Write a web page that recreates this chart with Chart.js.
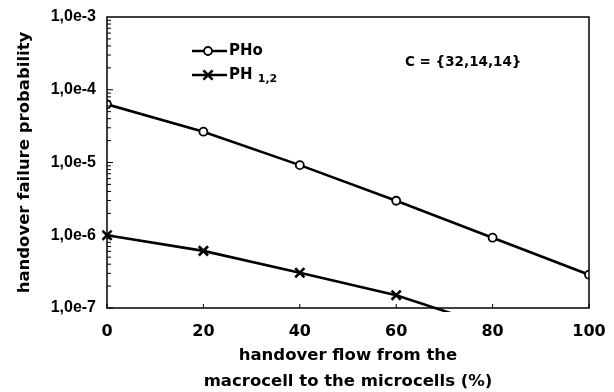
<!DOCTYPE html>
<html>
<head>
<meta charset="utf-8">
<script src="https://cdn.jsdelivr.net/npm/chart.js@4/dist/chart.umd.min.js"></script>
<style>
  html, body { margin: 0; padding: 0; background: #fff; }
  #wrap { width: 614px; height: 392px; position: relative; }
</style>
</head>
<body>
<div id="wrap"><canvas id="chart"></canvas></div>
<script>
// handover flow (%) on the x axis
const flow = [0, 20, 40, 60, 80, 100];
// PHo - handover failure probability of the macrocell
const pho = [6.3e-5, 2.65e-5, 9.2e-6, 2.98e-6, 9.25e-7, 2.87e-7];
// PH 1,2 - microcells (last visible segment runs out below 1e-7)
const ph12 = [1.0e-6, 6.1e-7, 3.05e-7, 1.5e-7, 5.5e-8];
// y tick labels
const yTickText = { 1e-3: '1,0e-3', 1e-4: '1,0e-4', 1e-5: '1,0e-5', 1e-6: '1,0e-6', 1e-7: '1,0e-7' };

Chart.defaults.font.family = '"DejaVu Sans", sans-serif';
Chart.defaults.font.weight = 'bold';
Chart.defaults.color = '#000';

const toPoints = (vals) => vals.map((v, i) => ({ x: flow[i], y: v }));

// frame, inward tick marks, legend and note drawn on top of the chart
const decorations = {
    id: 'decorations',
    afterDraw(chart) {
        const ctx = chart.ctx;
        const a = chart.chartArea;
        const xs = chart.scales.x;
        const ys = chart.scales.y;
        ctx.save();
        ctx.strokeStyle = '#000';
        ctx.lineWidth = 1.5;
        ctx.strokeRect(a.left, a.top, a.right - a.left, a.bottom - a.top);

        // y ticks, major and minor, pointing into the plot
        ctx.lineWidth = 1;
        for (let d = -7; d <= -4; d++) {
            for (let k = 1; k <= 9; k++) {
                const py = ys.getPixelForValue(k * Math.pow(10, d));
                const len = k === 1 ? 6 : 4;
                ctx.beginPath();
                ctx.moveTo(a.left, py);
                ctx.lineTo(a.left + len, py);
                ctx.stroke();
            }
        }
        // x ticks
        flow.forEach(v => {
            const px = xs.getPixelForValue(v);
            ctx.beginPath();
            ctx.moveTo(px, a.bottom);
            ctx.lineTo(px, a.bottom - 4);
            ctx.stroke();
        });

        // legend
        const ds = chart.data.datasets;
        const lx = a.left + 85;
        const rows = [a.top + 34, a.top + 58];
        rows.forEach((ry, i) => {
            const o = ds[i];
            ctx.strokeStyle = '#000';
            ctx.lineWidth = 2.4;
            ctx.beginPath();
            ctx.moveTo(lx, ry);
            ctx.lineTo(lx + 35, ry);
            ctx.stroke();
            ctx.fillStyle = o.pointBackgroundColor;
            ctx.lineWidth = o.pointBorderWidth;
            Chart.helpers.drawPoint(ctx, {
                pointStyle: o.pointStyle,
                radius: o.pointRadius,
                borderWidth: o.pointBorderWidth,
                rotation: 0
            }, lx + 16, ry);
        });
        ctx.fillStyle = '#000';
        ctx.textBaseline = 'middle';
        ctx.textAlign = 'left';
        ctx.font = 'bold 15px "DejaVu Sans"';
        ctx.fillText('PHo', lx + 37, rows[0]);
        ctx.fillText('PH', lx + 37, rows[1]);
        const w = ctx.measureText('PH ').width;
        ctx.font = 'bold 11px "DejaVu Sans"';
        ctx.fillText('1,2', lx + 37 + w, rows[1] + 4);

        ctx.font = 'bold 13.5px "DejaVu Sans"';
        ctx.fillText('C = {32,14,14}', a.left + 298, a.top + 45);
        ctx.restore();
    }
};

new Chart(document.getElementById('chart'), {
    type: 'line',
    data: {
        datasets: [{
            label: 'PHo',
            data: toPoints(pho),
            borderColor: '#000',
            borderWidth: 2.6,
            pointStyle: 'circle',
            pointRadius: 4,
            pointBorderWidth: 1.8,
            pointBackgroundColor: '#fff',
            pointBorderColor: '#000',
            tension: 0
        }, {
            label: 'PH 1,2',
            data: toPoints(ph12),
            borderColor: '#000',
            borderWidth: 2.6,
            pointStyle: 'crossRot',
            pointRadius: 6.5,
            pointBorderWidth: 2.6,
            pointBackgroundColor: '#000',
            pointBorderColor: '#000',
            tension: 0,
            clip: { left: 5, top: 5, right: 5, bottom: 4 }
        }]
    },
    options: {
        responsive: true,
        maintainAspectRatio: false,
        animation: false,
        layout: { padding: { top: 17, right: 25, left: 0, bottom: 0 } },
        plugins: {
            legend: { display: false },
            tooltip: { enabled: false }
        },
        scales: {
            x: {
                type: 'linear',
                min: 0,
                max: 100,
                afterFit: (s) => { s.height = 84; s.paddingLeft = 0; s.paddingRight = 0; },
                grid: { display: false, drawTicks: false },
                border: { display: false },
                ticks: {
                    stepSize: 20,
                    padding: 14,
                    font: { size: 16, weight: 'bold' },
                    color: '#000'
                },
                title: {
                    display: true,
                    text: ['handover flow from the', 'macrocell to the microcells (%)'],
                    font: { size: 16.5, weight: 'bold', lineHeight: 1.6 },
                    padding: { top: 0, bottom: -3 },
                    color: '#000'
                }
            },
            y: {
                type: 'logarithmic',
                min: 1e-7,
                max: 1e-3,
                afterFit: (s) => { s.width = 107; s.paddingTop = 0; s.paddingBottom = 0; },
                afterBuildTicks: (s) => {
                    s.ticks = Object.keys(yTickText).map(Number).sort((a, b) => a - b).map(v => ({ value: v }));
                },
                grid: { display: false, drawTicks: false },
                border: { display: false },
                ticks: {
                    padding: 11,
                    font: { family: '"Liberation Sans", Arial, sans-serif', size: 16, weight: 'bold' },
                    color: '#000',
                    callback: (v) => yTickText[v] || ''
                },
                title: {
                    display: true,
                    text: 'handover failure probability',
                    font: { size: 16.5, weight: 'bold' },
                    padding: { top: 15, bottom: 0 },
                    color: '#000'
                }
            }
        }
    },
    plugins: [decorations]
});
</script>
</body>
</html>
